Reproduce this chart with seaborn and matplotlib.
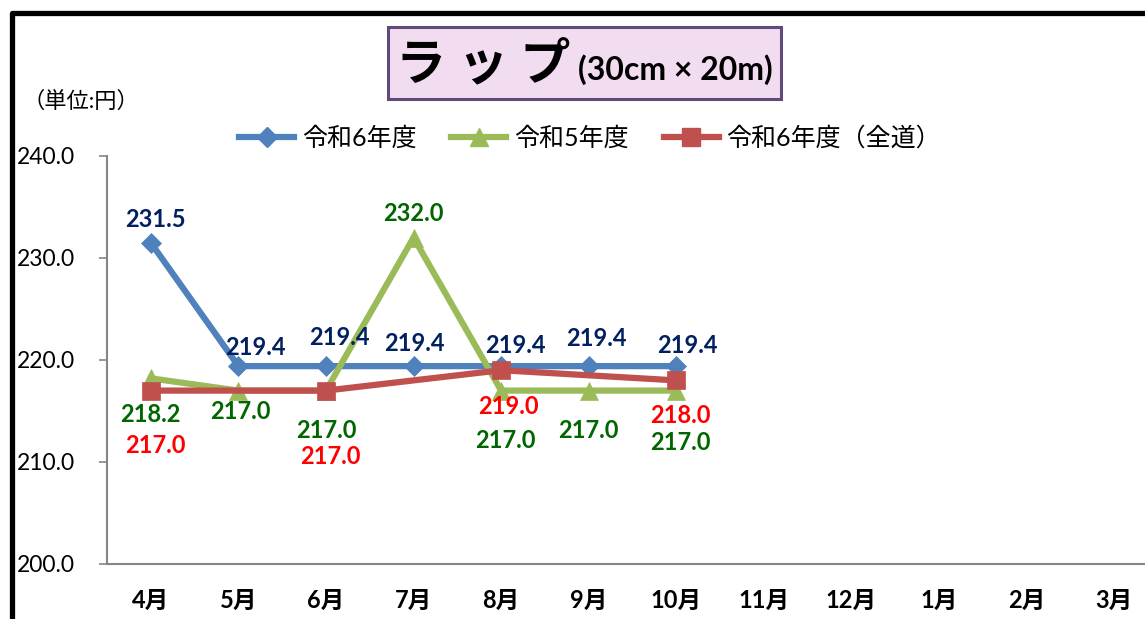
import pandas as pd
import numpy as np
import seaborn as sns
import matplotlib.pyplot as plt
from matplotlib.lines import Line2D
from matplotlib.patches import Rectangle

# chart data
months = ['4月', '5月', '6月', '7月', '8月', '9月', '10月', '11月', '12月', '1月', '2月', '3月']
r6 = [231.5, 219.4, 219.4, 219.4, 219.4, 219.4, 219.4]
r5 = [218.2, 217.0, 217.0, 232.0, 217.0, 217.0, 217.0]
r6_all = [217.0, np.nan, 217.0, np.nan, 219.0, np.nan, 218.0]
series_names = ['令和6年度', '令和5年度', '令和6年度（全道）']
yticks = [200.0, 210.0, 220.0, 230.0, 240.0]

# label offsets (pixels) so the numbers sit like in the original
off_r6 = [(5, 23), (17, 19), (13, 29), (1, 23), (14, 21), (8, 28), (11, 21)]
off_r5 = [(0, -36), (2, -21), (0, -40), (0, 24), (4, -50), (0, -40), (4, -52)]
off_all = [(5, -55), None, (4, -66), None, (7, -36), None, (4, -35)]

plt.rcParams['font.family'] = ['Lato', 'Noto Sans CJK JP']

fig = plt.figure(figsize=(11.45, 6.19), dpi=100)
W, H = 1145, 619
ax = fig.add_axes([107 / W, 55 / H, 1051 / W, 408 / H])

styles = [
    dict(color='#4F81BD', marker='D', markersize=10),
    dict(color='#9BBB59', marker='^', markersize=13),
    dict(color='#C0504D', marker='s', markersize=13),
]
label_colors = ['#002060', '#006600', '#FF0000']

for vals, st, offs, lc in zip([r6, r5, r6_all], styles, [off_r6, off_r5, off_all], label_colors):
    df = pd.DataFrame({'x': np.arange(len(vals)), 'y': vals}).dropna()
    sns.lineplot(data=df, x='x', y='y', ax=ax, color=st['color'], linewidth=4.5,
                 marker=st['marker'], markersize=st['markersize'],
                 markeredgecolor=st['color'], markeredgewidth=0.5, sort=False)
    for (_, row), off in zip(pd.DataFrame({'x': np.arange(len(vals)), 'y': vals}).iterrows(), offs):
        if off is None or np.isnan(row['y']):
            continue
        ax.annotate(f"{row['y']:.1f}", (row['x'], row['y']), xytext=off,
                    textcoords='offset pixels', ha='center', va='center',
                    fontsize=17, fontweight='bold', color=lc)

ax.set_xlim(-0.5, 11.5)
ax.set_ylim(200, 240)
ax.set_xticks(range(len(months)))
ax.set_xticklabels(months, fontsize=17, fontweight='bold')
ax.set_yticks(yticks)
ax.set_yticklabels([f'{v:.1f}' for v in yticks], fontsize=16.5)
ax.tick_params(axis='x', length=0, pad=18)
ax.tick_params(axis='y', length=6, width=1.2, color='#868686', pad=17)
ax.set_xlabel('')
ax.set_ylabel('')
for s in ['top', 'right']:
    ax.spines[s].set_visible(False)
for s in ['left', 'bottom']:
    ax.spines[s].set_color('#868686')
    ax.spines[s].set_linewidth(1.5)

# legend
handles = [Line2D([], [], linewidth=4.5, markeredgecolor=st['color'], **st) for st in styles]
fig.legend(handles, series_names, loc='center', bbox_to_anchor=(590 / W, 1 - 138 / H),
           ncol=3, frameon=False, fontsize=18, handlelength=2.2, columnspacing=1.4,
           handletextpad=0.3)

# title box
fig.patches.append(Rectangle((388 / W, 1 - 99 / H), 393 / W, 72 / H, transform=fig.transFigure,
                             facecolor='#F2DCF0', edgecolor='#604A7B', linewidth=2.2))
fig.text(396 / W, 1 - 64 / H, 'ラ ッ プ', fontsize=36, fontweight='bold', ha='left', va='center')
fig.text(773 / W, 1 - 70 / H, '(30cm × 20m)', fontsize=23, fontweight='bold', ha='right', va='center')

# unit
fig.text(22 / W, 1 - 101 / H, '（単位:円）', fontsize=16, ha='left', va='center')

# outer frame (top and left only visible)
fig.add_artist(Line2D([11.5 / W, 11.5 / W, 1.01], [-0.01, 1 - 12.5 / H, 1 - 12.5 / H],
                      transform=fig.transFigure, color='black', linewidth=3.8,
                      solid_joinstyle='round'))

fig.savefig('out.png', dpi=100)
